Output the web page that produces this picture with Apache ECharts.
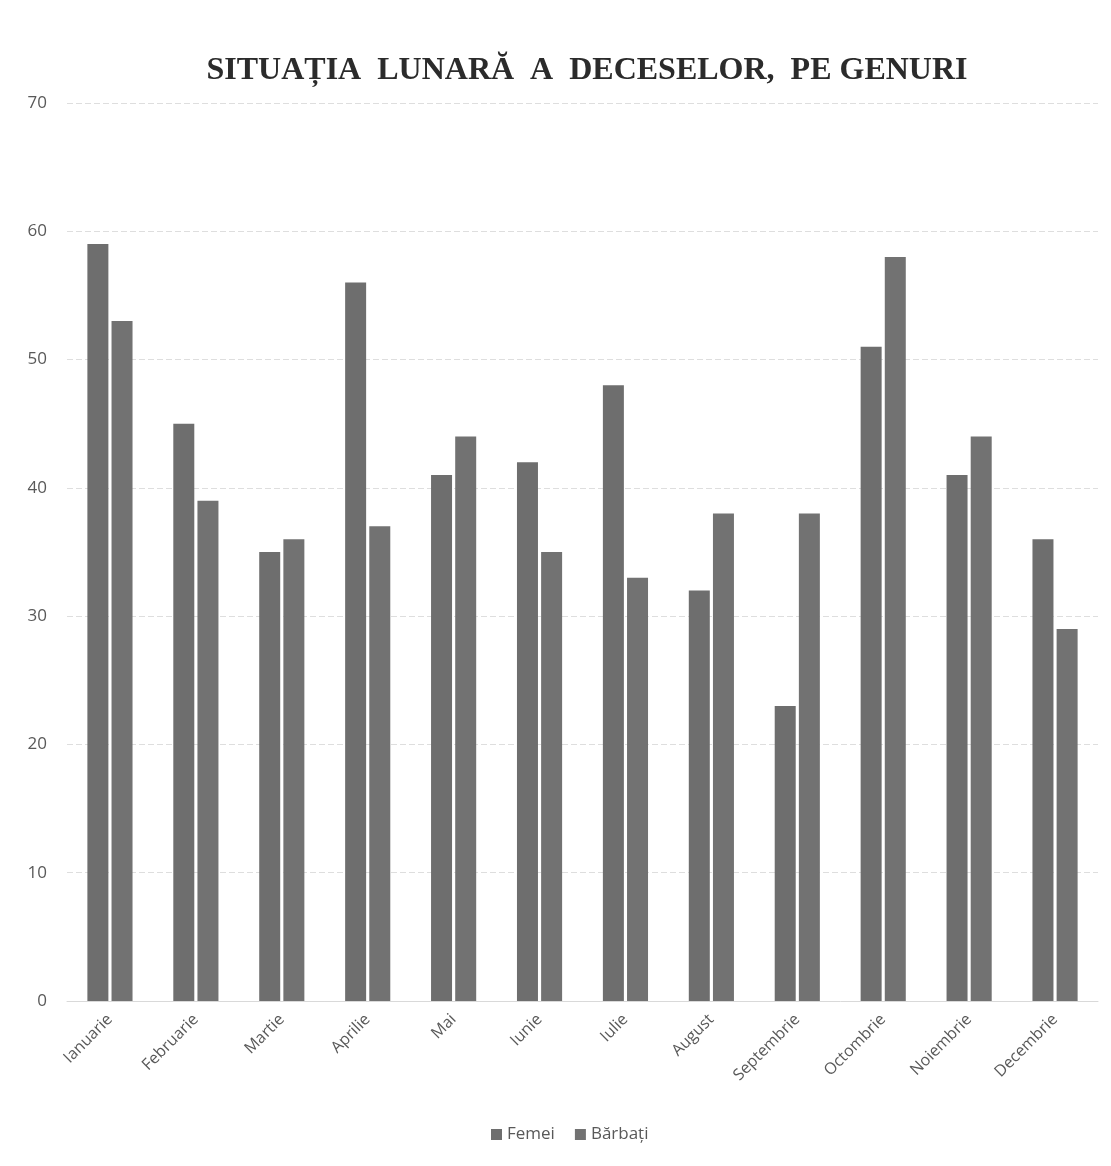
<!DOCTYPE html>
<html><head><meta charset="utf-8">
<script src="https://cdn.jsdelivr.net/npm/echarts@6/dist/echarts.min.js"></script>
<style>html,body{margin:0;padding:0;background:#fff}#c{width:1111px;height:1166px}</style>
</head><body><div id="c"></div>
<script>
const categories = ['Ianuarie','Februarie','Martie','Aprilie','Mai','Iunie','Iulie','August','Septembrie','Octombrie','Noiembrie','Decembrie'];
const femei = [59,45,35,56,41,42,48,32,23,51,41,36];
const barbati = [53,39,36,37,44,35,33,38,38,58,44,29];
const yTicks = {min:0, max:70, interval:10};

const chart = echarts.init(document.getElementById('c'), null, {renderer:'canvas'});
chart.setOption({
  animation:false,
  backgroundColor:'#fff',
  title:{text:'SITUAȚIA  LUNARĂ  A  DECESELOR,  PE GENURI', left:582, top:50, textAlign:'center',
    textStyle:{fontFamily:'Liberation Serif, Times New Roman, serif', fontWeight:'bold', fontSize:32, color:'#2b2b2b'}},
  grid:{left:67, right:13, top:103, bottom:165, containLabel:false},
  legend:{data:['Femei','Bărbați'], bottom:18, left:486, icon:'rect', itemWidth:11, itemHeight:11, itemGap:20,
    textStyle:{fontFamily:'Open Sans, sans-serif', fontSize:17, color:'#595959'}},
  xAxis:{type:'category', data:categories,
    axisLine:{lineStyle:{color:'#d9d9d9'}}, axisTick:{show:false},
    axisLabel:{rotate:45, interval:0, margin:16, fontFamily:'Open Sans, sans-serif', fontSize:16, color:'#595959'}},
  yAxis:{type:'value', min:yTicks.min, max:yTicks.max, interval:yTicks.interval,
    axisLine:{show:false}, axisTick:{show:false},
    splitLine:{lineStyle:{color:'#dedede', type:[6,3]}},
    axisLabel:{margin:20, fontFamily:'Open Sans, sans-serif', fontSize:17, color:'#595959'}},
  series:[
    {name:'Femei', type:'bar', data:femei, barWidth:21, barGap:'15%', itemStyle:{color:'#6e6e6e'}},
    {name:'Bărbați', type:'bar', data:barbati, barWidth:21, itemStyle:{color:'#727272'}}
  ]
});
</script></body></html>
